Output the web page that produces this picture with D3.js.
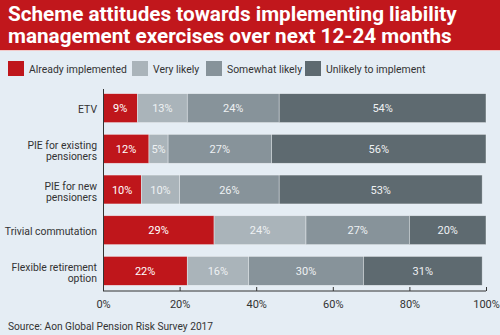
<!DOCTYPE html>
<html>
<head>
<meta charset="utf-8">
<script src="https://cdn.jsdelivr.net/npm/d3@7"></script>
<style>
  body { margin: 0; background: #e5edf4; }
  svg text { font-family: Roboto, sans-serif; }
</style>
</head>
<body>
<svg width="500" height="335"></svg>
<script>
// Survey answers, one row per exercise
const categories = ["ETV", "PIE for existing pensioners", "PIE for new pensioners", "Trivial commutation", "Flexible retirement option"];
const categoryLines = [["ETV"], ["PIE for existing", "pensioners"], ["PIE for new", "pensioners"], ["Trivial commutation"], ["Flexible retirement", "option"]];
const seriesNames = ["Already implemented", "Very likely", "Somewhat likely", "Unlikely to implement"];
const alreadyImplemented = [9, 12, 10, 29, 22];
const veryLikely = [13, 5, 10, 24, 16];
const somewhatLikely = [24, 27, 26, 27, 30];
const unlikely = [54, 56, 53, 20, 31];
const ticks = [0, 20, 40, 60, 80, 100];

const colors = ["#bf161b", "#aab4ba", "#87939a", "#5e6a70"];
const labelColors = ["#ffffff", "#eef1f3", "#eef1f3", "#eef1f3"];
const labelSize = "10.4px";

const svg = d3.select("svg"),
  width = +svg.attr("width"),
  height = +svg.attr("height");

// Title band
svg.append("rect")
  .attr("width", width)
  .attr("height", 50)
  .attr("fill", "#c1171c");
svg.append("line")
  .attr("x1", 0).attr("x2", width)
  .attr("y1", 50.5).attr("y2", 50.5)
  .attr("stroke", "#f2c9c9");

const titleLines = ["Scheme attitudes towards implementing liability", "management exercises over next 12-24 months"];
svg.append("g")
  .selectAll("text")
  .data(titleLines)
  .join("text")
  .attr("x", 8)
  .attr("y", (d, i) => 21 + i * 22)
  .attr("fill", "#fff")
  .style("font-size", "20.7px")
  .style("font-weight", "bold")
  .text(d => d);

// Legend
const legendX = [8, 132, 206, 305];
const legend = svg.append("g")
  .selectAll("g")
  .data(seriesNames)
  .join("g")
  .attr("transform", (d, i) => `translate(${legendX[i]}, 61)`);
legend.append("rect")
  .attr("width", 16)
  .attr("height", 15)
  .attr("fill", (d, i) => colors[i]);
legend.append("text")
  .attr("x", 21)
  .attr("y", 11.5)
  .attr("fill", "#333")
  .style("font-size", labelSize)
  .text(d => d);

// Scales
const x = d3.scaleLinear().domain([0, 100]).range([103, 486]);
const y = d3.scaleBand().domain(categories).range([88, 291]).paddingInner(0.29).paddingOuter(0.14);

// Stack the four answers
const rows = categories.map((c, i) => ({
  category: c,
  [seriesNames[0]]: alreadyImplemented[i],
  [seriesNames[1]]: veryLikely[i],
  [seriesNames[2]]: somewhatLikely[i],
  [seriesNames[3]]: unlikely[i]
}));
const series = d3.stack().keys(seriesNames)(rows);

const layers = svg.append("g")
  .selectAll("g")
  .data(series)
  .join("g");

layers.selectAll("rect")
  .data(d => d)
  .join("rect")
  .attr("x", d => x(d[0]))
  .attr("y", d => y(d.data.category))
  .attr("width", d => x(d[1]) - x(d[0]))
  .attr("height", y.bandwidth())
  .attr("fill", function () { return colors[d3.select(this.parentNode).datum().index]; })
  .attr("stroke", "#f4f7fa")
  .attr("stroke-width", 0.6)
  .attr("stroke-opacity", 0.7);

layers.selectAll("text")
  .data(d => d)
  .join("text")
  .attr("x", d => (x(d[0]) + x(d[1])) / 2)
  .attr("y", d => y(d.data.category) + y.bandwidth() / 2 + 4)
  .attr("text-anchor", "middle")
  .attr("fill", function () { return labelColors[d3.select(this.parentNode).datum().index]; })
  .style("font-size", "11px")
  .text(d => (d[1] - d[0]) + "%");

// Category labels, one text per line
const catLabels = svg.append("g");
categories.forEach((c, i) => {
  const lines = categoryLines[i];
  const cy = y(c) + y.bandwidth() / 2;
  const top = cy + 4.5 - (lines.length - 1) * 4.5;
  catLabels.selectAll(null)
    .data(lines)
    .join("text")
    .attr("x", 97)
    .attr("y", (l, j) => top + j * 11.5)
    .attr("text-anchor", "end")
    .attr("fill", "#333")
    .style("font-size", labelSize)
    .text(l => l);
});

// Axes
const axis = svg.append("g")
  .attr("transform", "translate(0, 291)")
  .call(d3.axisBottom(x).tickValues(ticks).tickSize(-4).tickPadding(10).tickFormat(d => d + "%"));
axis.select(".domain").attr("d", "M103,0H486").attr("stroke", "#333");
axis.selectAll(".tick line").attr("stroke", "#333");
axis.selectAll(".tick text")
  .attr("fill", "#333")
  .attr("dy", "0.71em")
  .attr("y", 9)
  .style("font-size", "11px")
  .style("font-family", "Roboto, sans-serif");

svg.append("line")
  .attr("x1", 103.5).attr("x2", 103.5)
  .attr("y1", 89).attr("y2", 291)
  .attr("stroke", "#333");

// Source
svg.append("text")
  .attr("x", 8)
  .attr("y", 330)
  .attr("fill", "#333")
  .style("font-size", "10.2px")
  .text("Source: Aon Global Pension Risk Survey 2017");
</script>
</body>
</html>
